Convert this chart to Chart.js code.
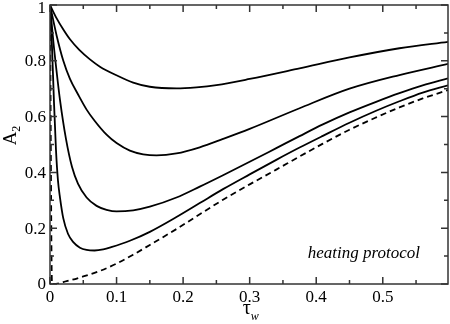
<!DOCTYPE html>
<html>
<head>
<meta charset="utf-8">
<script src="https://cdn.jsdelivr.net/npm/chart.js@4.4.0/dist/chart.umd.min.js"></script>
<style>
  html, body { margin: 0; padding: 0; background: #fff; }
  #wrap { width: 450px; height: 324px; }
</style>
</head>
<body>
<div id="wrap"><canvas id="chart" width="450" height="324"></canvas></div>
<script>
// values (tau_w, A_2)
const c1x = [0, 0.01, 0.02, 0.03, 0.044, 0.06, 0.075, 0.1, 0.125, 0.15, 0.19, 0.22, 0.25, 0.3, 0.375, 0.45, 0.525, 0.598];
const c1y = [1, 0.952, 0.912, 0.877, 0.839, 0.805, 0.779, 0.748, 0.722, 0.707, 0.701, 0.705, 0.713, 0.735, 0.773, 0.812, 0.845, 0.868];

const c2x = [0, 0.01, 0.02, 0.03, 0.042, 0.055, 0.067, 0.085, 0.1, 0.12, 0.14, 0.16, 0.19, 0.225, 0.26, 0.3, 0.375, 0.45, 0.525, 0.598];
const c2y = [1, 0.89, 0.8, 0.735, 0.68, 0.625, 0.585, 0.535, 0.505, 0.478, 0.465, 0.461, 0.468, 0.49, 0.52, 0.556, 0.63, 0.7, 0.749, 0.789];

const c3x = [0, 0.005, 0.01, 0.015, 0.024, 0.033, 0.042, 0.055, 0.07, 0.085, 0.1, 0.125, 0.15, 0.19, 0.225, 0.26, 0.3, 0.34, 0.375, 0.41, 0.45, 0.49, 0.525, 0.56, 0.598];
const c3y = [1, 0.87, 0.76, 0.66, 0.52, 0.42, 0.36, 0.31, 0.28, 0.266, 0.26, 0.264, 0.277, 0.31, 0.349, 0.39, 0.438, 0.487, 0.53, 0.572, 0.615, 0.653, 0.684, 0.712, 0.737];

const c4x = [0, 0.003, 0.006, 0.009, 0.012, 0.015, 0.02, 0.027, 0.035, 0.045, 0.055, 0.067, 0.08, 0.092, 0.12, 0.15, 0.19, 0.225, 0.26, 0.3, 0.34, 0.375, 0.41, 0.45, 0.49, 0.525, 0.56, 0.598];
const c4y = [1, 0.85, 0.65, 0.48, 0.37, 0.31, 0.235, 0.18, 0.15, 0.13, 0.122, 0.12, 0.124, 0.132, 0.155, 0.187, 0.24, 0.29, 0.34, 0.393, 0.445, 0.489, 0.531, 0.578, 0.621, 0.655, 0.686, 0.712];

const limX = [0, 0.003, 0.005, 0.025, 0.05, 0.075, 0.1, 0.125, 0.15, 0.19, 0.225, 0.26, 0.3, 0.34, 0.375, 0.41, 0.45, 0.49, 0.525, 0.56, 0.598];
const limY = [1, 0, 0, 0.01, 0.027, 0.047, 0.073, 0.105, 0.14, 0.197, 0.25, 0.302, 0.357, 0.41, 0.457, 0.503, 0.553, 0.597, 0.633, 0.665, 0.695];

const xTicks = [0, 0.1, 0.2, 0.3, 0.4, 0.5];
const xMinor = [0.05, 0.15, 0.25, 0.35, 0.45, 0.55];
const yTicks = [0, 0.2, 0.4, 0.6, 0.8, 1];
const yMinor = [0.1, 0.3, 0.5, 0.7, 0.9];

const xMax = 0.598;
const serif = '"Liberation Serif", "DejaVu Serif", serif';

function pts(xs, ys) {
    return xs.map((x, i) => ({ x: x, y: ys[i] }));
}

function curve(xs, ys, dash) {
    return {
        data: pts(xs, ys),
        showLine: true,
        borderColor: '#000',
        borderWidth: 1.8,
        borderDash: dash || [],
        pointRadius: 0,
        cubicInterpolationMode: 'monotone',
        fill: false
    };
}

// frame, inward ticks, y labels, axis titles and the note
const decor = {
    id: 'decor',
    afterDraw(chart) {
        const ctx = chart.ctx;
        const a = chart.chartArea;
        const xs = chart.scales.x, ys = chart.scales.y;
        ctx.save();
        ctx.strokeStyle = '#333';
        ctx.lineWidth = 1.5;
        ctx.strokeRect(a.left, a.top, a.right - a.left, a.bottom - a.top);

        ctx.beginPath();
        const tickX = (v, len) => {
            const px = xs.getPixelForValue(v);
            ctx.moveTo(px, a.bottom); ctx.lineTo(px, a.bottom - len);
            ctx.moveTo(px, a.top); ctx.lineTo(px, a.top + len);
        };
        const tickY = (v, len) => {
            const py = ys.getPixelForValue(v);
            ctx.moveTo(a.left, py); ctx.lineTo(a.left + len, py);
            ctx.moveTo(a.right, py); ctx.lineTo(a.right - len, py);
        };
        xTicks.forEach(v => tickX(v, 7));
        xMinor.forEach(v => tickX(v, 4));
        yTicks.forEach(v => tickY(v, 7));
        yMinor.forEach(v => tickY(v, 4));
        ctx.stroke();

        ctx.fillStyle = '#000';
        // y tick labels (top one kept inside the canvas)
        ctx.font = '17px ' + serif;
        ctx.textAlign = 'right';
        ctx.textBaseline = 'middle';
        yTicks.forEach(v => {
            const py = Math.max(ys.getPixelForValue(v) + 1, 9);
            ctx.fillText(String(v), a.left - 4, py);
        });

        // y title: A with subscript 2
        ctx.save();
        ctx.translate(16, (a.top + a.bottom) / 2 - 9);
        ctx.rotate(-Math.PI / 2);
        ctx.textBaseline = 'alphabetic';
        ctx.font = '19px ' + serif;
        ctx.textAlign = 'left';
        const wA = ctx.measureText('A').width;
        ctx.fillText('A', -(wA + 6) / 2, 0);
        ctx.font = '12px ' + serif;
        ctx.fillText('2', -(wA + 6) / 2 + wA, 4);
        ctx.restore();

        // x title: tau with subscript w
        const cx = xs.getPixelForValue(0.3);
        ctx.textAlign = 'left';
        ctx.textBaseline = 'alphabetic';
        ctx.font = '20px ' + serif;
        const wT = ctx.measureText('τ').width;
        ctx.fillText('τ', cx - 7, 314);
        ctx.font = 'italic 12px ' + serif;
        ctx.fillText('w', cx - 7 + wT, 320);

        // note
        ctx.font = 'italic 17px ' + serif;
        ctx.textAlign = 'right';
        ctx.fillText('heating protocol', 420, 258);
        ctx.restore();
    }
};

new Chart(document.getElementById('chart'), {
    type: 'scatter',
    data: {
        datasets: [
            curve(c1x, c1y),
            curve(c2x, c2y),
            curve(c3x, c3y),
            curve(c4x, c4y),
            curve(limX, limY, [6, 4])
        ]
    },
    options: {
        responsive: false,
        animation: false,
        layout: { padding: { top: 5, right: 2, left: 0, bottom: 0 } },
        plugins: {
            legend: { display: false },
            tooltip: { enabled: false }
        },
        scales: {
            x: {
                type: 'linear',
                min: 0,
                max: xMax,
                grid: { display: false, drawTicks: false },
                border: { display: false },
                afterBuildTicks: s => { s.ticks = xTicks.map(v => ({ value: v })); },
                afterFit: s => {
                    s.height = 40;
                    s.paddingLeft = 0; s.paddingRight = 0;
                },
                ticks: {
                    padding: 3,
                    color: '#000',
                    font: { family: serif, size: 17 },
                    maxRotation: 0,
                    callback: v => String(v)
                }
            },
            y: {
                type: 'linear',
                min: 0,
                max: 1,
                grid: { display: false, drawTicks: false },
                border: { display: false },
                afterBuildTicks: s => { s.ticks = yTicks.map(v => ({ value: v })); },
                afterFit: s => {
                    s.width = 50;
                    s.paddingTop = 0; s.paddingBottom = 0;
                },
                ticks: { display: false }
            }
        }
    },
    plugins: [decor]
});
</script>
</body>
</html>
